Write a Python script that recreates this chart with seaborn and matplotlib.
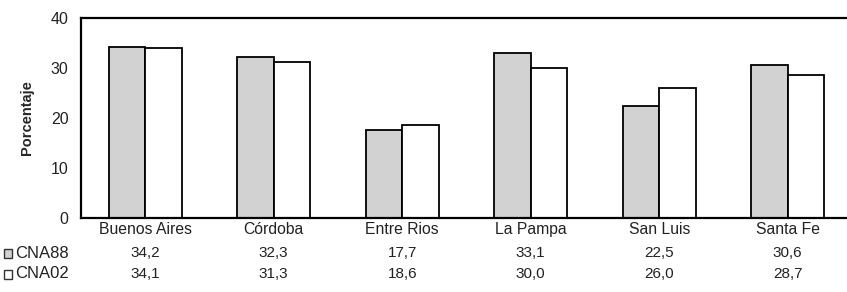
import matplotlib
matplotlib.use("Agg")
import matplotlib.pyplot as plt
import matplotlib.transforms as mtransforms
from matplotlib.patches import Rectangle
import seaborn as sns
import pandas as pd

provincias = ["Buenos Aires", "Córdoba", "Entre Rios", "La Pampa", "San Luis", "Santa Fe"]
cna88 = [34.2, 32.3, 17.7, 33.1, 22.5, 30.6]
cna02 = [34.1, 31.3, 18.6, 30.0, 26.0, 28.7]
series = ["CNA88", "CNA02"]
y_ticks = [0, 10, 20, 30, 40]

df = pd.DataFrame({
    "Provincia": provincias * 2,
    "Serie": [series[0]] * len(provincias) + [series[1]] * len(provincias),
    "Valor": cna88 + cna02,
})

sns.set_theme(style="white")
plt.rcParams["font.family"] = ["Liberation Sans", "DejaVu Sans"]

fig = plt.figure(figsize=(8.47, 2.92), dpi=100)
ax = fig.add_axes([81 / 847, 1 - 218 / 292, 771 / 847, 200 / 292])

colors = {"CNA88": "#d2d2d2", "CNA02": "#ffffff"}
sns.barplot(data=df, x="Provincia", y="Valor", hue="Serie", hue_order=series,
            palette=colors, width=0.57, edgecolor="black", linewidth=1.3,
            legend=False, ax=ax, errorbar=None)

ax.set_ylim(0, 40)
ax.set_yticks(y_ticks)
ax.set_yticklabels([str(t) for t in y_ticks], fontsize=11.5, color="#222222")
ax.tick_params(axis="y", length=0, pad=9)
ax.tick_params(axis="x", length=0, pad=3, labelsize=11.3, labelcolor="#222222")
ax.set_xlabel("")
ax.set_ylabel("Porcentaje", fontsize=10.5, fontweight="bold", labelpad=12)
for s in ax.spines.values():
    s.set_color("black")
    s.set_linewidth(1.6)

# data table below
trans = mtransforms.blended_transform_factory(ax.transData, fig.transFigure)
rows = [(series[0], cna88, 1 - 253 / 292), (series[1], cna02, 1 - 274 / 292)]
for name, vals, yf in rows:
    for i, v in enumerate(vals):
        ax.text(i, yf, f"{v:.1f}".replace(".", ","), transform=trans,
                ha="center", va="center", fontsize=11, color="#222222")
    fig.text(15 / 847, yf, name, ha="left", va="center", fontsize=12, color="#222222")
    fig.patches.append(Rectangle((4 / 847, yf - 4.5 / 292), 8 / 847, 9 / 292,
                                 transform=fig.transFigure, facecolor=colors[name],
                                 edgecolor="#333333", linewidth=1.0))

fig.savefig("out.png", dpi=100)
